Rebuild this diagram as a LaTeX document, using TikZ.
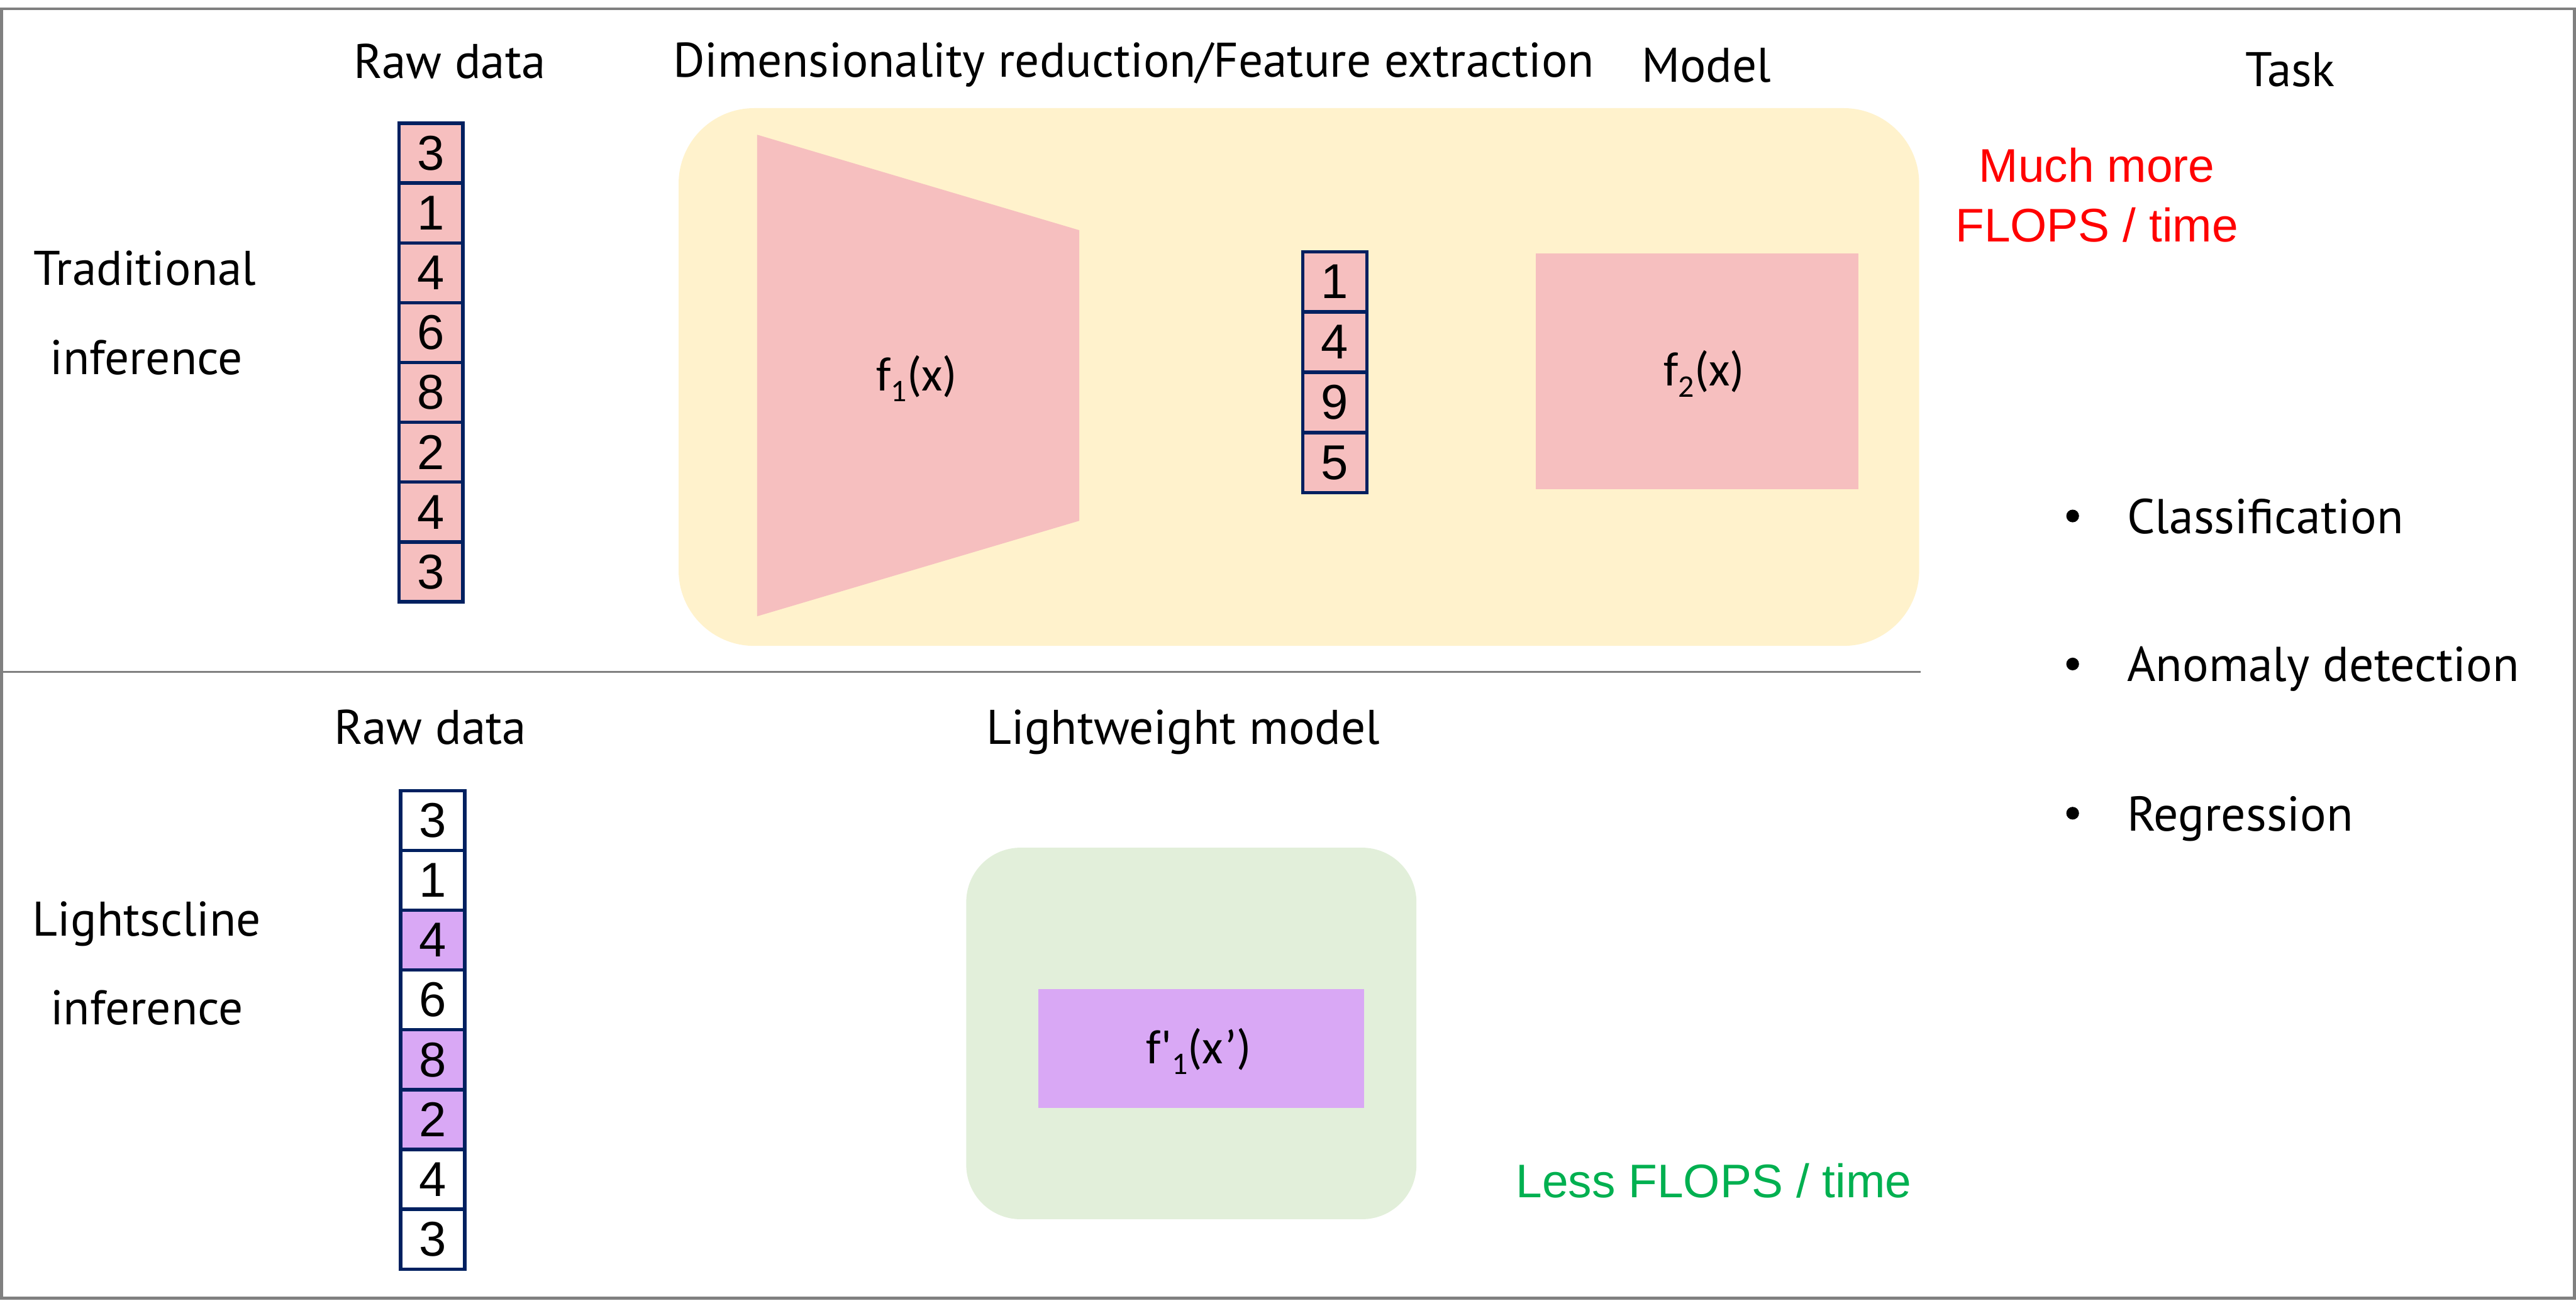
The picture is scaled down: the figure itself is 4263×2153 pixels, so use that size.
\documentclass[tikz,border=0pt]{standalone}
\usepackage{fontspec}
\setmainfont{PT Sans}
\newfontfamily\arialf{Liberation Sans}
\newfontfamily\calf{Carlito}
\definecolor{navyc}{HTML}{002060}
\definecolor{pinkc}{HTML}{F6BFBF}
\definecolor{yellowc}{HTML}{FFF2CC}
\definecolor{greenbg}{HTML}{E2EFDA}
\definecolor{purpc}{HTML}{D9A8F5}
\definecolor{grayc}{HTML}{808080}
\definecolor{redc}{HTML}{FF0000}
\definecolor{greenc}{HTML}{00B050}
\tikzset{
  lbl/.style={font=\fontsize{80.5}{92}\selectfont, inner sep=0, anchor=base},
  bul/.style={font=\fontsize{81}{92}\selectfont, inner sep=0, anchor=base west},
  note/.style={font=\arialf\fontsize{78}{90}\selectfont, inner sep=0, anchor=base},
  fun/.style={font=\calf\fontsize{80}{90}\selectfont, inner sep=0, anchor=base},
  cell/.style={draw=navyc, line width=5.5, minimum width=106, minimum height=99, inner sep=0,
    font=\arialf\fontsize{81}{90}\selectfont},
  dot/.style={circle, fill=black, inner sep=0, minimum size=21}
}
\begin{document}
\begin{tikzpicture}[x=1pt,y=-1pt]
\useasboundingbox (0,0) rectangle (4263,2153);
% frame
\draw[grayc, line width=5] (2.5,14.5) rectangle (4260.5,2148.5);
\coordinate (divL) at (2.5,1112);
\coordinate (divR) at (3178,1112);
\draw[grayc, line width=2.5] (divL) -- (divR);

% ---------- top row ----------
\node[lbl] (rawT) at (744,130) {Raw data};
\node[lbl] (dimT) at (1876,127) {Dimensionality reduction/Feature extraction};
\node[lbl] (modelT) at (2824,136) {Model};
\node[lbl] (taskT) at (3790,143) {Task};
\node[lbl] (trad1) at (240,472) {Traditional};
\node[lbl] (trad2) at (242,620) {inference};

\fill[yellowc, rounded corners=125] (1123,179) rectangle (3176,1069);
\fill[pinkc] (1253,223) -- (1786,381) -- (1786,862) -- (1253,1020) -- cycle;
\node[fun] (f1) at (1517,647) {f\raisebox{-18pt}{\fontsize{52}{52}\selectfont 1}(x)};
\fill[pinkc] (2542,419) rectangle (3075,810);
\node[fun] (f2) at (2820,639) {f\raisebox{-18pt}{\fontsize{52}{52}\selectfont 2}(x)};

\foreach \v [count=\i from 0] in {3,1,4,6,8,2,4,3}
  \node[cell, fill=pinkc] (rt\i) at (713,{253.5+99*\i}) {\v};

\foreach \v [count=\i from 0] in {1,4,9,5}
  \node[cell, fill=pinkc] (ft\i) at (2209,{466+100*\i}) {\v};

\node[note, text=redc] (red1) at (3470,301) {Much more};
\node[note, text=redc] (red2) at (3470,400) {FLOPS / time};

% task list
\node[dot] (d1) at (3430,854) {};
\node[bul] (t1) at (3520,883) {Classification};
\node[dot] (d2) at (3430,1099) {};
\node[bul] (t2) at (3520,1128) {Anomaly detection};
\node[dot] (d3) at (3430,1346) {};
\node[bul] (t3) at (3520,1375) {Regression};

% ---------- bottom row ----------
\node[lbl] (rawB) at (712,1232) {Raw data};
\node[lbl] (lightw) at (1958,1232) {Lightweight model};
\node[lbl] (light1) at (243,1549) {Lightscline};
\node[lbl] (light2) at (243,1696) {inference};

\foreach \v/\c [count=\i from 0] in {3/white,1/white,4/purpc,6/white,8/purpc,2/purpc,4/white,3/white}
  \node[cell, fill=\c] (rb\i) at (716,{1358+99*\i}) {\v};

\fill[greenbg, rounded corners=90] (1599,1403) rectangle (2344,2018);
\fill[purpc] (1718,1637) rectangle (2257,1834);
\node[fun] (f3) at (1984,1760) {f'\raisebox{-18pt}{\fontsize{52}{52}\selectfont 1}(x’)};

\node[note, text=greenc] (green1) at (2836,1982) {Less FLOPS / time};
\end{tikzpicture}
\end{document}
